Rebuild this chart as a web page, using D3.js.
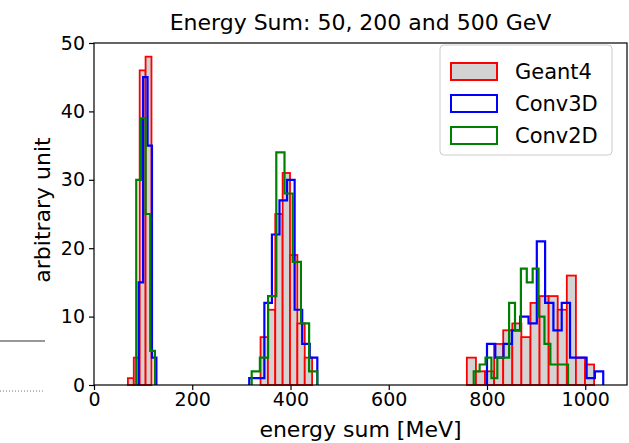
<!DOCTYPE html>
<html>
<head>
<meta charset="utf-8">
<script src="https://cdn.jsdelivr.net/npm/d3@7"></script>
<style>
  body { margin: 0; background: #fff; }
  svg { display: block; font-family: "DejaVu Sans", sans-serif; }
</style>
</head>
<body>
<div id="chart"></div>
<script>
// histogram bins, one entry per energy cluster (50, 200, 500 GeV)
const seriesNames = ["Geant4", "Conv3D", "Conv2D"];

const geant4Starts = [69, 339, 759];
const geant4Widths = [12, 15, 18.5];
const geant4Counts = [
    [1, 4, 46, 48],
    [7, 11, 25, 31, 19, 9, 4],
    [4, 2, 2, 6, 8, 9, 7, 12, 13, 13, 11, 16, 4, 3]
];

const conv3dStarts = [91, 316, 800];
const conv3dWidths = [9, 15.4, 16.9];
const conv3dCounts = [
    [15, 45, 35, 4],
    [1, 1, 12, 22, 27, 30, 11, 6, 4],
    [6, 4, 6, 8, 10, 9, 21, 12, 8, 12, 4, 4, 1, 2]
];

const conv2dStarts = [86, 321, 773];
const conv2dWidths = [9.5, 16.7, 12];
const conv2dCounts = [
    [30, 39, 25, 5],
    [2, 4, 13, 34, 28, 18, 9, 2],
    [2, 3, 4, 1, 4, 4, 12, 8, 17, 15, 17, 10, 6, 3, 3, 3]
];

const xTicks = [0, 200, 400, 600, 800, 1000];
const yTicks = [0, 10, 20, 30, 40, 50];

const W = 629, H = 443;
const plot = { left: 94, right: 627, top: 43, bottom: 385 };

const svg = d3.select("#chart")
    .append("svg")
    .attr("width", W)
    .attr("height", H);

const x = d3.scaleLinear().domain([0, 1085]).range([plot.left, plot.right]);
const y = d3.scaleLinear().domain([0, 50]).range([plot.bottom, plot.top]);

// turn starts/widths/counts into a flat bin list
function makeBins(starts, widths, counts) {
    const bins = [];
    counts.forEach((cl, k) => {
        cl.forEach((c, i) => {
            bins.push({
                x0: starts[k] + i * widths[k],
                x1: starts[k] + (i + 1) * widths[k],
                count: c,
                cluster: k
            });
        });
    });
    return bins;
}

const geant4Bins = makeBins(geant4Starts, geant4Widths, geant4Counts);
const conv3dBins = makeBins(conv3dStarts, conv3dWidths, conv3dCounts);
const conv2dBins = makeBins(conv2dStarts, conv2dWidths, conv2dCounts);

const plotArea = svg.append("g");

// Geant4: filled bars with red edges
plotArea.selectAll(".g4bar")
    .data(geant4Bins.filter(d => d.count > 0))
    .enter().append("rect")
    .attr("class", "g4bar")
    .attr("x", d => x(d.x0))
    .attr("y", d => y(d.count))
    .attr("width", d => x(d.x1) - x(d.x0))
    .attr("height", d => y(0) - y(d.count))
    .style("fill", "#d3d3d3")
    .style("stroke", "#ff0000")
    .style("stroke-width", 1.8);

// step outline for one cluster
function stepPath(bins) {
    let p = `M${x(bins[0].x0)},${y(0)}`;
    bins.forEach(b => {
        p += `V${y(b.count)}H${x(b.x1)}`;
    });
    p += `V${y(0)}`;
    return p;
}

function drawSteps(bins, color) {
    const clusters = d3.groups(bins, d => d.cluster).map(g => g[1]);
    plotArea.selectAll(null)
        .data(clusters)
        .enter().append("path")
        .attr("d", stepPath)
        .style("fill", "none")
        .style("stroke", color)
        .style("stroke-width", 2.2);
}

drawSteps(conv3dBins, "#0000ff");
drawSteps(conv2dBins, "#008000");

// axes
const xAxis = svg.append("g")
    .attr("transform", `translate(0,${plot.bottom})`)
    .call(d3.axisBottom(x).tickValues(xTicks).tickFormat(d3.format("d")).tickSize(5).tickPadding(3));

const yAxis = svg.append("g")
    .attr("transform", `translate(${plot.left},0)`)
    .call(d3.axisLeft(y).tickValues(yTicks).tickFormat(d3.format("d")).tickSize(5).tickPadding(4));

[xAxis, yAxis].forEach(a => {
    a.select(".domain").remove();
    a.selectAll("line").style("stroke", "#000").style("stroke-width", 1.2);
    a.selectAll("text")
        .style("font-family", "DejaVu Sans")
        .style("font-size", "19px")
        .style("fill", "#000");
});

// frame
svg.append("rect")
    .attr("x", plot.left)
    .attr("y", plot.top)
    .attr("width", plot.right - plot.left)
    .attr("height", plot.bottom - plot.top)
    .style("fill", "none")
    .style("stroke", "#000")
    .style("stroke-width", 1.2);

// labels
svg.append("text")
    .attr("x", (plot.left + plot.right) / 2)
    .attr("y", 437)
    .attr("text-anchor", "middle")
    .style("font-size", "22px")
    .text("energy sum [MeV]");

svg.append("text")
    .attr("transform", `translate(50,${(plot.top + plot.bottom) / 2 - 4}) rotate(-90)`)
    .attr("text-anchor", "middle")
    .style("font-size", "22px")
    .text("arbitrary unit");

svg.append("text")
    .attr("x", (plot.left + plot.right) / 2)
    .attr("y", 30)
    .attr("text-anchor", "middle")
    .style("font-size", "22px")
    .text("Energy Sum: 50, 200 and 500 GeV");

// legend
const legendStyles = [
    { fill: "#d3d3d3", stroke: "#ff0000" },
    { fill: "#fff", stroke: "#0000ff" },
    { fill: "#fff", stroke: "#008000" }
];

const legend = svg.append("g").attr("transform", "translate(440,45)");

legend.append("rect")
    .attr("width", 172)
    .attr("height", 110)
    .attr("rx", 4)
    .style("fill", "#fff")
    .style("fill-opacity", 0.8)
    .style("stroke", "#cccccc")
    .style("stroke-width", 1);

const items = legend.selectAll(".item")
    .data(seriesNames)
    .enter().append("g")
    .attr("class", "item")
    .attr("transform", (d, i) => `translate(11,${18 + i * 32})`);

items.append("rect")
    .attr("width", 46)
    .attr("height", 17)
    .style("fill", (d, i) => legendStyles[i].fill)
    .style("stroke", (d, i) => legendStyles[i].stroke)
    .style("stroke-width", 2);

items.append("text")
    .attr("x", 64)
    .attr("y", 16)
    .style("font-size", "21px")
    .text(d => d);

// leftovers of the neighbouring panel at the left edge
svg.append("line")
    .attr("x1", 0).attr("x2", 45)
    .attr("y1", 341).attr("y2", 341)
    .style("stroke", "#333")
    .style("stroke-width", 1.2);

svg.append("line")
    .attr("x1", 0).attr("x2", 45)
    .attr("y1", 391).attr("y2", 391)
    .style("stroke", "#777")
    .style("stroke-width", 1)
    .style("stroke-dasharray", "1,2");
</script>
</body>
</html>
